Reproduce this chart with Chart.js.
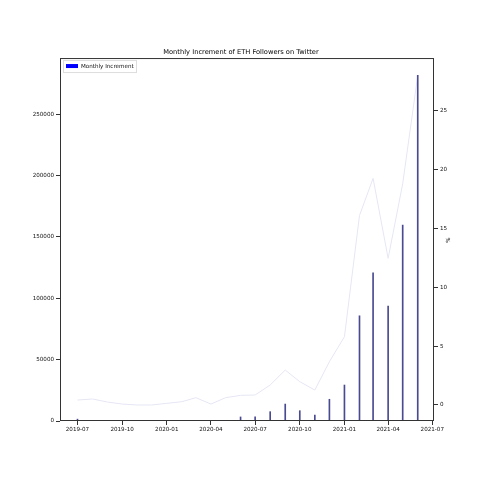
<!DOCTYPE html>
<html>
<head>
<meta charset="utf-8">
<script src="https://cdn.jsdelivr.net/npm/chart.js@4"></script>
<style>
  html, body { margin: 0; padding: 0; background: #fff; }
  #wrap { width: 482px; height: 482px; }
</style>
</head>
<body>
<div id="wrap"><canvas id="graph-area" width="482" height="482"></canvas></div>
<script>
// months (first day of each month)
var months = ["2019-07", "2019-08", "2019-09", "2019-10", "2019-11", "2019-12",
  "2020-01", "2020-02", "2020-03", "2020-04", "2020-05", "2020-06",
  "2020-07", "2020-08", "2020-09", "2020-10", "2020-11", "2020-12",
  "2021-01", "2021-02", "2021-03", "2021-04", "2021-05", "2021-06"];

// monthly increment of followers (bars, left axis)
var increments = [1500, null, null, null, null, null,
  null, null, null, null, null, 3300,
  3400, 7600, 13800, 8400, 4900, 17700,
  29300, 85700, 120800, 93600, 159600, 281700];

// growth in % (line, right axis)
var percents = [0.42, 0.51, 0.25, 0.08, 0.0, 0.0,
  0.14, 0.28, 0.62, 0.08, 0.62, 0.82,
  0.85, 1.7, 2.97, 1.98, 1.27, 3.68,
  5.8, 16.1, 19.26, 12.46, 18.8, 28.0];

var xTickLabels = ["2019-07", "2019-10", "2020-01", "2020-04", "2020-07", "2020-10", "2021-01", "2021-04", "2021-07"];
var yTicks = [0, 50000, 100000, 150000, 200000, 250000];
var y1Ticks = [0, 5, 10, 15, 20, 25];

function toDays(s) {
  var p = s.split("-");
  var d = p.length > 2 ? +p[2] : 1;
  return (Date.UTC(+p[0], +p[1] - 1, d) - Date.UTC(2019, 6, 1)) / 86400000;
}

window.addEventListener("DOMContentLoaded", function () {
  var font = "'DejaVu Sans', sans-serif";
  Chart.defaults.font.family = font;
  Chart.defaults.color = "#111";

  var barData = months.map(function (m, i) { return { x: toDays(m), y: increments[i] }; });
  var lineData = months.map(function (m, i) { return { x: toDays(m), y: percents[i] }; });

  // frame, legend box and "%" label
  var framePlugin = {
    id: "frame",
    afterDraw: function (chart) {
      var ctx = chart.ctx, a = chart.chartArea;
      ctx.save();
      ctx.strokeStyle = "#333";
      ctx.lineWidth = 1;
      ctx.strokeRect(a.left + 0.5, a.top + 0.5, a.right - a.left - 1, a.bottom - a.top - 1);

      // legend
      var lx = a.left + 3, ly = a.top + 2;
      ctx.fillStyle = "rgba(255,255,255,0.8)";
      ctx.strokeStyle = "#ddd";
      ctx.lineWidth = 1;
      ctx.fillRect(lx, ly, 73, 12);
      ctx.strokeRect(lx + 0.5, ly + 0.5, 73, 12);
      ctx.fillStyle = "#0000ff";
      ctx.fillRect(lx + 3, ly + 4, 12, 4);
      ctx.fillStyle = "#111";
      ctx.font = "5.6px " + font;
      ctx.textBaseline = "middle";
      ctx.fillText(chart.data.datasets[0].label, lx + 18, ly + 6.5);

      // right axis label
      ctx.translate(449, 240);
      ctx.rotate(-Math.PI / 2);
      ctx.textAlign = "center";
      ctx.font = "5.6px " + font;
      ctx.fillText("%", 0, 0);
      ctx.restore();
    }
  };

  var tickGrid = { display: true, offset: false, drawOnChartArea: false, drawTicks: true, tickLength: 4, color: "#333" };

  var canvas = document.getElementById("graph-area");
  new Chart(canvas, {
    type: "bar",
    data: {
      datasets: [
        {
          label: "Monthly Increment",
          data: barData,
          backgroundColor: "#4a4a92",
          barThickness: 1,
          yAxisID: "y",
          order: 1
        },
        {
          type: "line",
          label: "%",
          data: lineData,
          borderColor: "#e6e6f5",
          borderWidth: 1,
          pointRadius: 0,
          tension: 0,
          yAxisID: "y1",
          order: 2
        }
      ]
    },
    options: {
      responsive: false,
      animation: false,
      layout: { padding: 0 },
      plugins: {
        legend: { display: false },
        tooltip: { enabled: false },
        title: {
          display: true,
          text: "Monthly Increment of ETH Followers on Twitter",
          color: "#000",
          font: { size: 6.7, weight: "normal" },
          padding: { top: 48, bottom: 2 }
        }
      },
      scales: {
        x: {
          type: "linear",
          offset: false,
          min: toDays("2019-05-26"),
          max: toDays("2021-07-04") + 0.5,
          grid: tickGrid,
          border: { display: false },
          afterBuildTicks: function (scale) {
            scale.ticks = xTickLabels.map(function (s) { return { value: toDays(s) }; });
          },
          afterFit: function (scale) { scale.height = 61; },
          ticks: {
            maxRotation: 0,
            autoSkip: false,
            padding: 1,
            font: { size: 5.6 },
            callback: function (v) {
              for (var i = 0; i < xTickLabels.length; i++) {
                if (toDays(xTickLabels[i]) === v) return xTickLabels[i];
              }
              return "";
            }
          }
        },
        y: {
          position: "left",
          min: 0,
          max: 295700,
          grid: tickGrid,
          border: { display: false },
          afterBuildTicks: function (scale) {
            scale.ticks = yTicks.map(function (v) { return { value: v }; });
          },
          afterFit: function (scale) { scale.width = 60; },
          ticks: {
            padding: 2,
            font: { size: 5.6 },
            callback: function (v) { return String(v); }
          }
        },
        y1: {
          position: "right",
          min: -1.36,
          max: 29.48,
          grid: tickGrid,
          border: { display: false },
          afterBuildTicks: function (scale) {
            scale.ticks = y1Ticks.map(function (v) { return { value: v }; });
          },
          afterFit: function (scale) { scale.width = 48; },
          ticks: {
            padding: 2,
            font: { size: 5.6 },
            callback: function (v) { return String(v); }
          }
        }
      }
    },
    plugins: [framePlugin]
  });
});
</script>
</body>
</html>
